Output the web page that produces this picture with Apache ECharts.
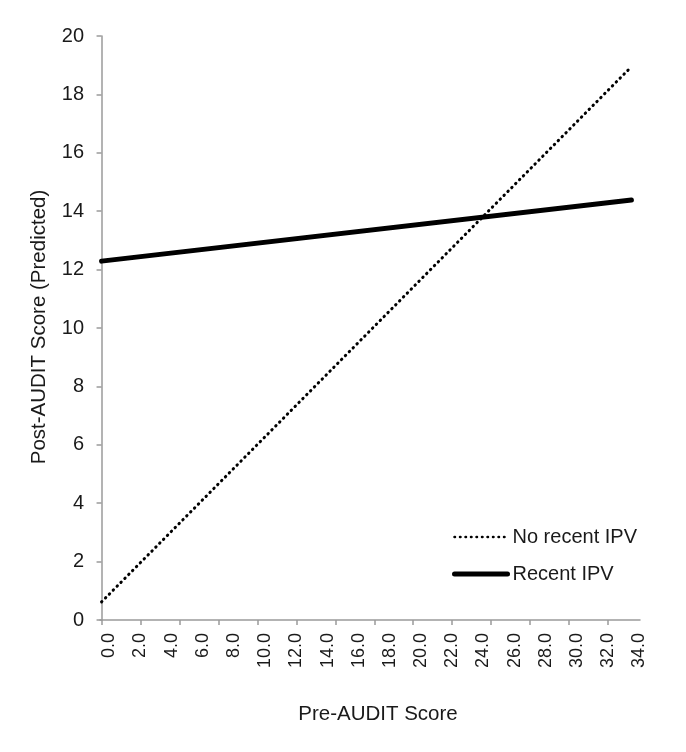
<!DOCTYPE html>
<html>
<head>
<meta charset="utf-8">
<script src="https://cdn.jsdelivr.net/npm/echarts@6/dist/echarts.min.js"></script>
<style>
html,body{margin:0;padding:0;background:#fff;}
#chart{width:686px;height:752px;}
</style>
</head>
<body>
<div id="chart"></div>
<script>
// Data
const xPoints = [0, 34];
const noRecentIPV = [0.62, 18.95];
const recentIPV = [12.29, 14.38];
const xLabelValues = [0, 2, 4, 6, 8, 10, 12, 14, 16, 18, 20, 22, 24, 26, 28, 30, 32, 34];
const xTickValues = [0, 2.5, 5, 7.5, 10, 12.5, 15, 17.5, 20, 22.5, 25, 27.5, 30, 32.5];
const yTicks = [0, 2, 4, 6, 8, 10, 12, 14, 16, 18, 20];
const seriesNames = ['No recent IPV', 'Recent IPV'];

const FONT = 'Liberation Sans';
const TXT = '#1a1a1a';
const AX = '#9a9a9a';
const LABEL_SHIFT = 0.5; // x tick labels sit slightly right of their values in the reference

const chart = echarts.init(document.getElementById('chart'), null, {renderer: 'canvas'});
const option = {
  animation: false,
  backgroundColor: '#fff',
  grid: {left: 100, right: 46, top: 36, bottom: 132, containLabel: false},
  xAxis: {
    type: 'value',
    min: -0.1,
    max: 34.55,
    axisLine: {show: true, lineStyle: {color: AX, width: 1.5}},
    axisTick: {show: true, length: 5, lineStyle: {color: AX, width: 1.5}, customValues: xTickValues},
    splitLine: {show: false},
    axisLabel: {
      customValues: xLabelValues.map(v => v + LABEL_SHIFT),
      rotate: 90,
      margin: 13,
      fontFamily: FONT,
      fontSize: 18,
      color: TXT,
      formatter: v => (Number(v) - LABEL_SHIFT).toFixed(1)
    }
  },
  yAxis: {
    type: 'value',
    min: 0,
    max: 20,
    interval: 2,
    axisLine: {show: true, lineStyle: {color: AX, width: 1.5}},
    axisTick: {show: true, length: 5, lineStyle: {color: AX, width: 1.5}},
    splitLine: {show: false},
    axisLabel: {margin: 16, fontFamily: FONT, fontSize: 20, color: TXT}
  },
  legend: {
    orient: 'vertical',
    left: 447,
    top: 522,
    itemWidth: 53,
    itemHeight: 14,
    itemGap: 17,
    textStyle: {fontFamily: FONT, fontSize: 20, color: TXT},
    data: [
      {name: seriesNames[0], itemStyle: {opacity: 0}, lineStyle: {width: 2.5, color: '#000'}},
      {name: seriesNames[1], itemStyle: {opacity: 0}, lineStyle: {width: 5, color: '#000'}}
    ]
  },
  graphic: [
    {type: 'text', x: 39, y: 327, rotation: Math.PI / 2,
     style: {text: 'Post-AUDIT Score (Predicted)', font: '20.5px ' + FONT, fill: TXT, textAlign: 'center', textVerticalAlign: 'middle'}},
    {type: 'text', x: 378, y: 714,
     style: {text: 'Pre-AUDIT Score', font: '20.5px ' + FONT, fill: TXT, textAlign: 'center', textVerticalAlign: 'middle'}}
  ],
  series: [
    {
      name: seriesNames[0], type: 'line', symbol: 'none', silent: true,
      data: xPoints.map((x, i) => [x, noRecentIPV[i]]),
      lineStyle: {color: '#000', width: 3, type: [0.5, 5], cap: 'round'},
      itemStyle: {color: '#000'}
    },
    {
      name: seriesNames[1], type: 'line', symbol: 'none', silent: true,
      data: xPoints.map((x, i) => [x, recentIPV[i]]),
      lineStyle: {color: '#000', width: 5, cap: 'round'},
      itemStyle: {color: '#000'}
    }
  ]
};
chart.setOption(option);
</script>
</body>
</html>
